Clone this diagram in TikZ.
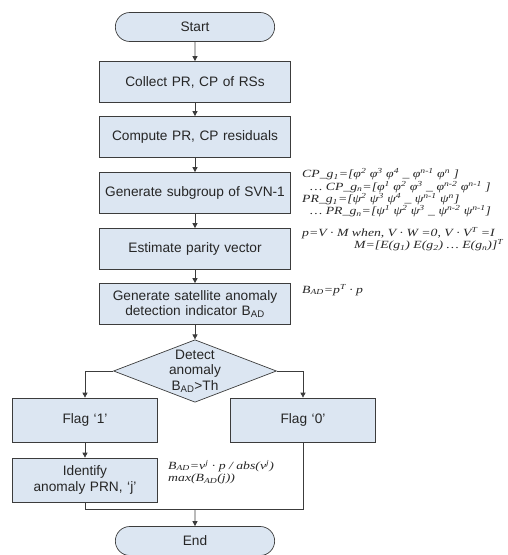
\documentclass[tikz,border=0pt]{standalone}
\usepackage{fontspec}
\setmainfont{Liberation Sans}
\newfontfamily\eqfont[FakeStretch=1.25]{Liberation Serif}
\usetikzlibrary{shapes.geometric, shapes.misc, arrows.meta, positioning}
\usepackage{xcolor}
\definecolor{boxfill}{RGB}{220,230,242}
\definecolor{boxline}{RGB}{60,60,60}
\definecolor{txt}{RGB}{38,38,38}
\tikzstyle{startstop} = [rounded rectangle, minimum width=166pt,
    minimum height=29pt, text centered, draw=boxline, fill=boxfill]
\tikzstyle{process} = [rectangle, minimum width=191pt, minimum height=41pt,
    text width=184pt, align=center, draw=boxline, fill=boxfill]
\tikzstyle{process2} = [rectangle, minimum width=145pt, minimum height=44pt,
    text width=138pt, align=center, draw=boxline, fill=boxfill]
\tikzstyle{decision} = [diamond, aspect=2.6, minimum width=163pt,
    minimum height=62pt, inner sep=0pt, align=center, draw=boxline, fill=boxfill]
\tikzstyle{formula} = [font=\eqfont\itshape\fontsize{11}{12.4}\selectfont,
    align=left, inner sep=0pt]
\tikzstyle{arrow} = [draw=boxline, ->, >={Triangle[length=5pt,width=5pt]}]
\tikzstyle{line} = [draw=boxline]

\begin{document}
\begin{tikzpicture}[node distance=55pt, line width=0.7pt, text=txt,
    font=\fontsize{13.7}{15.5}\selectfont]

        \useasboundingbox (-195pt,27pt) rectangle (312pt,-528pt);

        % Nodes
        \node (start) [startstop] {Start};

        \node (collect) [process, below of=start] {Collect PR, CP of RSs};

        \node (compute) [process, below of=collect] {Compute PR, CP residuals};

        \node (sub) [process, below of=compute, node distance=56pt] {Generate subgroup of SVN-1};

        \node (parity) [process, below of=sub, node distance=56pt] {Estimate parity vector};

        \node (sat) [process, below of=parity] {Generate satellite anomaly\\detection indicator B\textsubscript{AD}};

        \node (detect) [decision, below of=sat, node distance=67pt] {Detect\\anomaly\\B\textsubscript{AD}>Th};

        \node (flag1) [process2, below of=detect, node distance=49pt, xshift=-110pt] {Flag `1'};

        \node (flag0) [process2, below of=detect, node distance=49pt, xshift=108pt] {Flag `0'};

        \node (ident) [process2, below of=flag1, node distance=60pt] {Identify\\anomaly PRN, `j'};

        \node (finish) [startstop, below of=detect, node distance=170pt] {End};

        \coordinate [above=17pt of finish] (merge);

        % Formulas
        \node (eqsub) [formula, right=11pt of sub] {CP\_g\textsubscript{1}=[φ\textsuperscript{2} φ\textsuperscript{3} φ\textsuperscript{4} \_ φ\textsuperscript{n-1} φ\textsuperscript{n} ]\\
            \hspace*{8pt}\ldots\ CP\_g\textsubscript{n}=[φ\textsuperscript{1} φ\textsuperscript{2} φ\textsuperscript{3} \_ φ\textsuperscript{n-2} φ\textsuperscript{n-1} ]\\
            PR\_g\textsubscript{1}=[ψ\textsuperscript{2} ψ\textsuperscript{3} ψ\textsuperscript{4} \_ ψ\textsuperscript{n-1} ψ\textsuperscript{n}]\\
            \hspace*{8pt}\ldots\ PR\_g\textsubscript{n}=[ψ\textsuperscript{1} ψ\textsuperscript{2} ψ\textsuperscript{3} \_ ψ\textsuperscript{n-2} ψ\textsuperscript{n-1}]};

        \node (eqpar) [formula, right=11pt of parity, yshift=10pt] {p=V · M when, V · W =0, V · V\textsuperscript{T} =I\\
            \hspace*{52pt}M=[E(g\textsubscript{1}) E(g\textsubscript{2}) \ldots\ E(g\textsubscript{n})]\textsuperscript{T}};

        \node (eqsat) [formula, right=11pt of sat, yshift=14pt] {B\textsubscript{AD}=p\textsuperscript{T} · p};

        \node (eqid) [formula, right=10pt of ident, yshift=8pt] {B\textsubscript{AD}=v\textsuperscript{j} · p / abs(v\textsuperscript{j})\\
            max(B\textsubscript{AD}(j))};

        % Arrows
        \draw [arrow] (start) -- (collect);
        \draw [arrow] (collect) -- (compute);
        \draw [arrow] (compute) -- (sub);
        \draw [arrow] (sub) -- (parity);
        \draw [arrow] (parity) -- (sat);
        \draw [arrow] (sat) -- (detect);
        \draw [arrow] (detect.west) -| (flag1);
        \draw [arrow] (detect.east) -| (flag0);
        \draw [arrow] (flag1) -- (ident);
        \draw [line] (ident.south) |- (merge);
        \draw [line] (flag0.south) |- (merge);
        \draw [arrow] (merge) -- (finish);

    \end{tikzpicture}
\end{document}
